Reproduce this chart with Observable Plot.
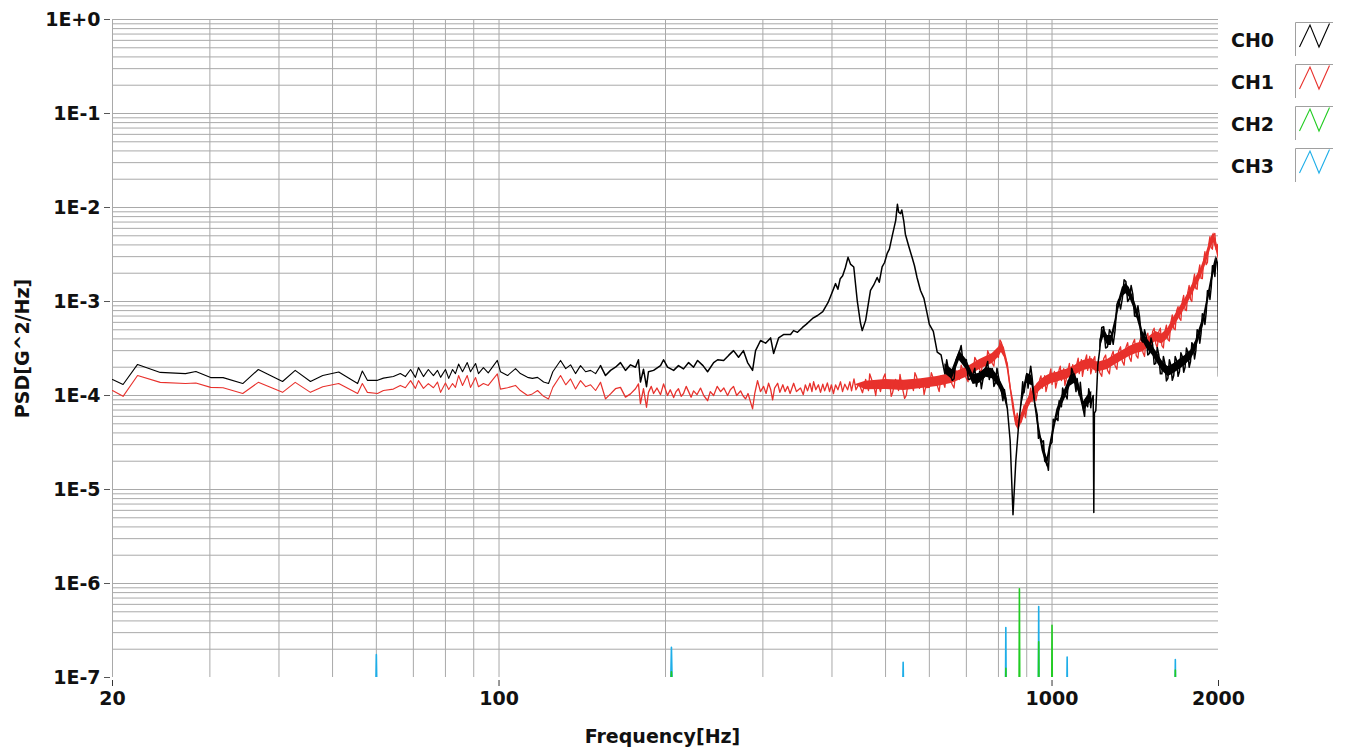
<!DOCTYPE html>
<html><head><meta charset="utf-8">
<script src="https://cdn.jsdelivr.net/npm/d3@7"></script>
<script src="https://cdn.jsdelivr.net/npm/@observablehq/plot@0.6"></script>
<style>
html,body{margin:0;padding:0;background:#fff;}
#wrap{position:relative;width:1347px;height:751px;overflow:hidden;}
#legend{position:absolute;left:1220px;top:0;}
</style></head>
<body><div id="wrap"><div id="chart"></div><svg id="legend" width="127" height="200"></svg></div>
<script>
const xTicks = [20, 100, 1000, 2000];
const xTickLabels = ["20", "100", "1000", "2000"];
const xGridVals = [20,30,40,50,60,70,80,90,100,200,300,400,500,600,700,800,900,1000];
const yTicks = [1e-7, 1e-6, 1e-5, 1e-4, 1e-3, 1e-2, 1e-1, 1];
const yTickLabels = ["1E-7","1E-6","1E-5","1E-4","1E-3","1E-2","1E-1","1E+0"];
const channels = ["CH0", "CH1", "CH2", "CH3"];
const channelColors = ["#000000", "#e8312c", "#22cc22", "#1eaee8"];

// CH0 [frequency Hz, PSD G^2/Hz]
const ch0 = [[20.0,1.48e-4],[20.9,1.31e-4],[22.2,2.14e-4],[24.4,1.76e-4],[27.1,1.71e-4],[28.3,1.80e-4],[30.1,1.55e-4],[31.7,1.55e-4],[34.4,1.34e-4],[36.7,1.89e-4],[40.6,1.41e-4],[42.8,1.85e-4],[45.6,1.41e-4],[48.0,1.63e-4],[51.3,1.78e-4],[55.5,1.34e-4],[56.6,1.82e-4],[57.8,1.45e-4],[60.3,1.45e-4],[61.8,1.53e-4],[64.4,1.59e-4],[66.3,1.71e-4],[67.7,1.59e-4],[69.2,1.89e-4],[70.6,1.56e-4],[71.5,1.98e-4],[73.0,1.59e-4],[74.5,1.89e-4],[76.1,1.63e-4],[77.4,1.85e-4],[78.4,1.56e-4],[80.0,1.89e-4],[81.1,1.52e-4],[82.4,1.89e-4],[83.4,1.71e-4],[84.5,2.16e-4],[85.9,1.79e-4],[87.6,2.24e-4],[88.8,1.79e-4],[90.7,2.19e-4],[91.8,1.71e-4],[93.7,1.98e-4],[95.6,1.74e-4],[99.3,2.36e-4],[100.6,1.79e-4],[103.6,1.63e-4],[107.1,1.93e-4],[109.3,1.71e-4],[112.6,1.56e-4],[114.9,1.52e-4],[117.4,1.56e-4],[120.4,1.39e-4],[122.9,1.34e-4],[125.1,1.79e-4],[129.2,2.36e-4],[132.0,1.93e-4],[134.7,2.12e-4],[137.5,1.71e-4],[140.4,2.08e-4],[143.4,1.79e-4],[146.4,1.85e-4],[149.5,1.71e-4],[152.6,2.08e-4],[155.8,1.63e-4],[159.1,1.85e-4],[162.4,2.0e-4],[165.8,2.24e-4],[169.3,1.85e-4],[172.9,2.12e-4],[176.5,2.0e-4],[178.7,2.4e-4],[180.2,1.39e-4],[182.5,1.9e-4],[184.8,1.24e-4],[186.3,1.79e-4],[190.3,1.85e-4],[195.9,2.08e-4],[198.4,2.4e-4],[201.7,2.0e-4],[206.9,1.85e-4],[211.1,2.08e-4],[215.6,1.92e-4],[220.2,2.24e-4],[224.8,2.0e-4],[228.6,2.36e-4],[233.8,2.08e-4],[238.3,1.79e-4],[244.4,2.24e-4],[248.5,2.4e-4],[254.8,2.36e-4],[260.1,2.67e-4],[265.5,3.0e-4],[271.1,2.55e-4],[276.7,3.0e-4],[281.5,2.24e-4],[287.4,1.85e-4],[291.0,3.0e-4],[297.1,3.85e-4],[303.4,3.6e-4],[309.8,4.1e-4],[313.7,2.8e-4],[320.3,4.1e-4],[326.9,4.45e-4],[336.6,4.45e-4],[340.9,4.9e-4],[346.5,4.7e-4],[353.8,5.3e-4],[359.7,5.75e-4],[368.9,6.6e-4],[376.7,7.1e-4],[385.0,7.8e-4],[393.4,9.7e-4],[397.6,1.13e-3],[406.0,1.55e-3],[410,1.35e-3],[414,1.75e-3],[418.2,1.88e-3],[423,2.3e-3],[427.6,2.95e-3],[432,2.5e-3],[438,2.33e-3],[444.3,1.03e-3],[450.4,5.9e-4],[453.7,4.9e-4],[460.2,6.3e-4],[469.6,1.31e-3],[476,1.5e-3],[482.8,1.8e-3],[487,1.6e-3],[492.9,2.33e-3],[498,2.6e-3],[503.4,3.25e-3],[508,3.6e-3],[514.1,5.0e-3],[521.6,7.3e-3],[525.3,1.08e-2],[528.2,8.9e-3],[532.1,8.6e-3],[535,9.4e-3],[539.5,7.1e-3],[543,5.2e-3],[550.5,3.9e-3],[558.3,2.95e-3],[564,2.4e-3],[570.0,1.8e-3],[578.3,1.31e-3],[586.6,1.08e-3],[594.7,7.4e-4],
[600,5.7e-4],[610,4.8e-4],[620,2.9e-4],[630,2.7e-4],[640,1.7e-4],[650,1.85e-4],[660,1.45e-4],[670,2.35e-4],[680,2.9e-4],[690,2.3e-4],[700,2.4e-4],[710,1.48e-4],[720,1.71e-4],[730,1.25e-4],[740,1.8e-4],[750,1.48e-4],[760,2.0e-4],[770,1.48e-4],[780,1.93e-4],[790,1.37e-4],[800,1.6e-4],[810,1.1e-4],[820,1.16e-4],[830,7.4e-5],[840,3.3e-5],[850,5.4e-6],[860,2.0e-5],[870,4.8e-5],[880,9.1e-5],[890,1.07e-4],[900,1.7e-4],[910,1.63e-4],[920,1.6e-4],[930,8.4e-5],[940,6.3e-5],[950,3.7e-5],[960,3.2e-5],[970,2.0e-5],[980,1.9e-5],[990,2.9e-5],[1000,3.2e-5],[1010,5.3e-5],[1020,5.7e-5],[1030,8.8e-5],[1040,7.6e-5],[1050,1.1e-4],[1060,9.8e-5],[1070,1.44e-4],[1080,1.31e-4],[1090,1.8e-4],[1100,1.34e-4],[1110,1.52e-4],[1120,1.0e-4],[1130,1.05e-4],[1140,6.9e-5],[1150,9.1e-5],[1160,7.6e-5],[1170,1.05e-4],[1180,9.1e-5],[1187,1.0e-4],[1190,5.7e-6],[1193,6.5e-5],[1200,6.9e-5],[1210,2.1e-4],[1220,3.1e-4],[1240,5.4e-4],[1260,3.3e-4],[1280,4.6e-4],[1300,4.9e-4],[1320,1.05e-3],[1340,1.07e-3],[1360,1.63e-3],[1380,1.07e-3],[1400,1.19e-3],[1420,6.9e-4],[1440,6.8e-4],[1460,3.7e-4],[1480,4.2e-4],[1500,2.8e-4],[1520,3.5e-4],[1540,2.2e-4],[1560,2.7e-4],[1580,1.7e-4],[1600,2.2e-4],[1620,1.52e-4],[1640,2.1e-4],[1660,1.63e-4],[1680,2.35e-4],[1700,1.8e-4],[1720,2.6e-4],[1740,2.0e-4],[1760,2.9e-4],[1780,2.3e-4],[1800,3.4e-4],[1820,3.0e-4],[1840,4.8e-4],[1860,4.6e-4],[1880,7.1e-4],[1900,7.6e-4],[1920,1.31e-3],[1940,1.41e-3],[1960,2.4e-3],[1980,2.9e-3],[1990,2.6e-3],[1995,2.1e-3],[2000,1.6e-4]];

// CH0 noise extremes in the dense part of the trace
const ch0Peaks = [[645,2.4e-4],[665,1.5e-4],[685,3.4e-4],[705,1.5e-4],[725,1.95e-4],[745,1.18e-4],[765,2.3e-4],[785,1.25e-4],[795,1.95e-4],[815,8.8e-5],[885,1.4e-4],[905,1.2e-4],[915,2.05e-4],[945,3.5e-5],[965,3.3e-5],[985,1.6e-5],[1005,5.6e-5],[1025,5.4e-5],[1045,1.2e-4],[1065,9.2e-5],[1085,1.95e-4],[1105,1.1e-4],[1125,1.38e-4],[1145,6.0e-5],[1165,1.18e-4],[1175,7.4e-5],[1230,5.3e-4],[1250,3.2e-4],[1270,5.0e-4],[1290,3.5e-4],[1310,9.3e-4],[1330,8.3e-4],[1350,1.7e-3],[1370,1.0e-3],[1390,1.48e-3],[1410,7.0e-4],[1430,9.0e-4],[1450,3.9e-4],[1470,5.0e-4],[1490,2.7e-4],[1510,4.1e-4],[1530,2.15e-4],[1550,3.25e-4],[1570,1.7e-4],[1590,2.6e-4],[1610,1.43e-4],[1630,2.4e-4],[1650,1.45e-4],[1670,2.6e-4],[1690,1.6e-4],[1710,2.85e-4],[1730,1.77e-4],[1750,3.2e-4],[1770,2.0e-4],[1790,3.65e-4],[1810,2.45e-4],[1830,5.0e-4],[1850,3.6e-4],[1870,7.4e-4],[1890,5.7e-4],[1910,1.3e-3],[1930,1.05e-3],[1950,2.4e-3],[1970,1.85e-3]];

// CH0 dense-noise band where the trace is a solid smear: [frequency, low PSD, high PSD]
const ch0Band = [[640,1.71e-4,2.18e-4],[660,1.48e-4,1.89e-4],[680,2.35e-4,3.0e-4],[700,1.89e-4,2.41e-4],[720,1.31e-4,1.67e-4],[740,1.35e-4,1.72e-4],[760,1.56e-4,1.99e-4],[780,1.51e-4,1.93e-4],[800,1.25e-4,1.59e-4],[820,9.3e-5,1.19e-4],[830,7.1e-5,9.0e-5],[835,null,null],
[880,7.4e-5,9.5e-5],[900,1.35e-4,1.72e-4],[920,1.27e-4,1.63e-4],[940,5.0e-5,6.4e-5],[960,2.54e-5,3.24e-5],[980,1.71e-5,2.18e-5],[1000,3.16e-5,4.03e-5],[1020,5.6e-5,7.1e-5],[1040,7.6e-5,9.7e-5],[1060,9.7e-5,1.24e-4],[1080,1.27e-4,1.63e-4],[1100,1.35e-4,1.72e-4],[1120,1.03e-4,1.31e-4],[1140,6.7e-5,8.6e-5],[1160,7.8e-5,1.0e-4],[1180,8.7e-5,1.11e-4],[1185,null,null],
[1220,3.08e-4,3.93e-4],[1240,4.16e-4,5.3e-4],[1260,3.41e-4,4.35e-4],[1280,3.41e-4,4.35e-4],[1300,5.0e-4,6.4e-4],[1320,8.1e-4,1.03e-3],[1340,1.11e-3,1.41e-3],[1360,1.21e-3,1.55e-3],[1380,1.11e-3,1.41e-3],[1400,9.0e-4,1.15e-3],[1420,7.1e-4,9.0e-4],[1440,5.3e-4,6.8e-4],[1460,3.75e-4,4.79e-4],[1480,3.24e-4,4.14e-4],[1500,2.92e-4,3.73e-4],[1520,2.66e-4,3.39e-4],[1540,2.35e-4,3.0e-4],[1560,2.08e-4,2.66e-4],[1580,1.84e-4,2.35e-4],[1600,1.71e-4,2.18e-4],[1620,1.59e-4,2.03e-4],[1640,1.64e-4,2.09e-4],[1660,1.71e-4,2.18e-4],[1680,1.8e-4,2.29e-4],[1700,1.89e-4,2.41e-4],[1720,1.98e-4,2.53e-4],[1740,2.08e-4,2.66e-4],[1760,2.25e-4,2.87e-4],[1780,2.35e-4,3.0e-4],[1800,2.66e-4,3.39e-4],[1820,3.0e-4,3.84e-4],[1840,3.75e-4,4.79e-4],[1860,4.57e-4,5.83e-4],[1880,5.6e-4,7.1e-4],[1900,7.6e-4,9.7e-4],[1920,1.03e-3,1.31e-3],[1940,1.41e-3,1.8e-3],[1960,1.89e-3,2.41e-3],[1980,2.42e-3,3.08e-3]];

// CH1
const ch1 = [[20.0,1.13e-4],[20.9,9.8e-5],[22.2,1.63e-4],[24.4,1.38e-4],[27.1,1.34e-4],[28.3,1.36e-4],[30.1,1.22e-4],[31.7,1.21e-4],[34.4,1.05e-4],[36.7,1.38e-4],[40.6,1.08e-4],[42.8,1.38e-4],[45.6,1.08e-4],[48.0,1.24e-4],[51.3,1.34e-4],[55.5,1.05e-4],[56.6,1.34e-4],[57.8,1.08e-4],[60.3,1.05e-4],[61.8,1.13e-4],[64.4,1.17e-4],[66.3,1.28e-4],[67.7,1.21e-4],[69.2,1.44e-4],[70.6,1.19e-4],[71.5,1.44e-4],[73.0,1.19e-4],[74.5,1.34e-4],[76.1,1.21e-4],[77.4,1.39e-4],[78.4,1.08e-4],[80.0,1.36e-4],[81.1,1.16e-4],[82.4,1.34e-4],[83.4,1.22e-4],[84.5,1.63e-4],[85.9,1.28e-4],[87.6,1.63e-4],[88.8,1.22e-4],[90.7,1.55e-4],[91.8,1.24e-4],[93.7,1.34e-4],[95.6,1.28e-4],[99.3,1.7e-4],[100.6,1.17e-4],[103.6,1.21e-4],[107.1,1.28e-4],[109.3,1.13e-4],[112.6,1.0e-4],[114.9,1.04e-4],[117.4,1.13e-4],[120.4,9.8e-5],[122.9,9.2e-5],[125.1,1.22e-4],[129.2,1.63e-4],[132.0,1.3e-4],[134.7,1.5e-4],[137.5,1.17e-4],[140.4,1.44e-4],[143.4,1.24e-4],[146.4,1.3e-4],[149.5,1.13e-4],[152.6,1.38e-4],[155.8,9.2e-5],[159.1,1.04e-4],[162.4,1.18e-4],[165.8,1.22e-4],[169.3,9.6e-5],[172.9,1.04e-4],[176.5,1.18e-4],[178.7,1.33e-4],[180.2,8.2e-5],[182.5,1.18e-4],[184.8,7.5e-5],[186.3,1.08e-4],[188.5,1.25e-4],[190.3,1.05e-4],[193,1.2e-4],[195.9,1.02e-4],[198.4,1.33e-4],[201.7,1.0e-4],[204,1.15e-4],[206.9,9.5e-5],[209,1.1e-4],[211.1,1.18e-4],[213.5,9.8e-5],[215.6,1.05e-4],[218,1.25e-4],[220.2,1.1e-4],[222.5,9.6e-5],[224.8,1.12e-4],[228,1.02e-4],[231.4,1.2e-4],[234.5,1.0e-4],[238.3,8.8e-5],[241,1.1e-4],[244.4,1.0e-4],[248,1.25e-4],[251.6,1.1e-4],[255,1.2e-4],[259.0,1.0e-4],[262,1.15e-4],[265.5,1.25e-4],[269,1.0e-4],[273.4,1.12e-4],[276,1.0e-4],[279.1,9.2e-5],[282,1.05e-4],[285.0,8.5e-5],[287.4,7.2e-5],[290,1.05e-4],[293.4,1.44e-4],[297,1.1e-4],[300.9,1.25e-4],[304,1.05e-4],[307.2,1.35e-4],[310,1.15e-4],[312.4,9.0e-5],[315,1.2e-4],[319.0,1.35e-4],[322,1.08e-4],[326,1.3e-4],[329,1.1e-4],[332.6,1.25e-4],[336,1.05e-4],[341.0,1.35e-4],[345,1.1e-4],[350.9,1.2e-4],[355,1.02e-4],[358,1.3e-4],[361.3,1.12e-4],[365,1.35e-4],[368,1.1e-4],[370.5,1.4e-4],[374,1.15e-4],[378,1.3e-4],[381.4,1.08e-4],[385,1.32e-4],[388,1.12e-4],[392.4,1.36e-4],[396,1.1e-4],[399,1.3e-4],[402.5,1.05e-4],[406,1.3e-4],[410,1.15e-4],[414.5,1.4e-4],[418,1.1e-4],[422,1.32e-4],[426.9,1.15e-4],[431,1.4e-4],[434,1.12e-4],[438.4,1.5e-4],[442,1.15e-4],[447.7,1.33e-4],[454.2,1.07e-4],[460.2,1.48e-4],[465.7,1.13e-4],[471.5,1.5e-4],[477.6,1.16e-4],[483.5,1.44e-4],[489.5,1.1e-4],[495.6,1.55e-4],[501.9,1.19e-4],[508.3,1.41e-4],[514.8,1.07e-4],[521.2,1.48e-4],[527.8,1.13e-4],[534.4,1.34e-4],[541.2,9.3e-5],[548.0,1.24e-4],[554.6,1.44e-4],[561.6,1.13e-4],[568.7,1.59e-4],[575.9,1.19e-4],[583.1,1.5e-4],[590.6,1.21e-4],
[600,1.22e-4],[610,1.52e-4],[620,1.28e-4],[630,1.63e-4],[640,1.22e-4],[650,1.63e-4],[660,1.31e-4],[670,1.85e-4],[680,1.48e-4],[690,1.85e-4],[700,1.52e-4],[710,2.03e-4],[720,1.71e-4],[730,2.35e-4],[740,1.89e-4],[750,2.47e-4],[760,1.98e-4],[770,2.73e-4],[780,2.19e-4],[790,3.0e-4],[800,2.54e-4],[810,3.66e-4],[820,2.66e-4],[830,2.19e-4],[840,1.22e-4],[850,8.4e-5],[860,5.0e-5],[870,5.3e-5],[880,5.2e-5],[890,7.8e-5],[900,7.1e-5],[910,1.0e-4],[920,8.6e-5],[930,1.25e-4],[940,1.05e-4],[950,1.48e-4],[960,1.19e-4],[970,1.63e-4],[980,1.25e-4],[990,1.67e-4],[1000,1.31e-4],[1010,1.8e-4],[1020,1.37e-4],[1030,1.89e-4],[1040,1.44e-4],[1050,1.93e-4],[1060,1.44e-4],[1070,1.93e-4],[1080,1.52e-4],[1090,2.13e-4],[1100,1.63e-4],[1110,2.24e-4],[1120,1.71e-4],[1130,2.41e-4],[1140,1.85e-4],[1150,2.47e-4],[1160,1.85e-4],[1170,2.6e-4],[1180,1.89e-4],[1190,2.47e-4],[1200,1.76e-4],[1210,2.24e-4],[1220,1.76e-4],[1240,2.47e-4],[1260,1.85e-4],[1280,2.6e-4],[1300,2.08e-4],[1320,3.0e-4],[1340,2.3e-4],[1360,3.24e-4],[1380,2.54e-4],[1400,3.57e-4],[1420,2.66e-4],[1440,3.75e-4],[1460,2.87e-4],[1480,4.14e-4],[1500,3.24e-4],[1520,4.8e-4],[1540,3.57e-4],[1560,4.8e-4],[1580,3.4e-4],[1600,4.8e-4],[1620,3.94e-4],[1640,6.0e-4],[1660,5.16e-4],[1680,8.0e-4],[1700,6.6e-4],[1720,1.0e-3],[1740,8.2e-4],[1760,1.25e-3],[1780,1.05e-3],[1800,1.63e-3],[1820,1.37e-3],[1840,2.03e-3],[1860,1.76e-3],[1880,2.73e-3],[1900,2.47e-3],[1920,4.04e-3],[1940,3.75e-3],[1960,5.16e-3],[1980,3.57e-3],[1990,4.04e-3],[2000,3.09e-3]];

// CH1 noise extremes in the dense part of the trace
const ch1Peaks = [[468,1.7e-4],[480,1.0e-4],[499,1.7e-4],[512,9.8e-5],[531,1.68e-4],[545,1.0e-4],[565,1.75e-4],[587,1.02e-4],[605,1.75e-4],[625,1.1e-4],[645,1.85e-4],[665,1.2e-4],[685,2.1e-4],[705,1.4e-4],[725,2.55e-4],[745,1.75e-4],[765,3.0e-4],[785,2.05e-4],[805,3.9e-4],[865,6.5e-5],[895,5.8e-5],[915,1.2e-4],[935,8.8e-5],[955,1.62e-4],[975,1.1e-4],[995,1.92e-4],[1015,1.2e-4],[1035,2.05e-4],[1055,1.28e-4],[1075,2.2e-4],[1095,1.4e-4],[1115,2.5e-4],[1135,1.6e-4],[1155,2.7e-4],[1175,1.7e-4],[1195,2.6e-4],[1230,1.6e-4],[1250,2.7e-4],[1270,1.7e-4],[1290,2.95e-4],[1310,1.9e-4],[1330,3.3e-4],[1350,2.1e-4],[1370,3.65e-4],[1390,2.3e-4],[1410,3.95e-4],[1430,2.5e-4],[1450,4.2e-4],[1470,2.6e-4],[1490,4.6e-4],[1510,3.0e-4],[1530,5.2e-4],[1550,3.2e-4],[1570,5.2e-4],[1590,3.2e-4],[1610,5.6e-4],[1630,3.8e-4],[1650,7.2e-4],[1670,5.0e-4],[1690,8.8e-4],[1710,6.3e-4],[1730,1.16e-3],[1750,8.0e-4],[1770,1.48e-3],[1790,1.0e-3],[1810,1.95e-3],[1830,1.35e-3],[1850,2.45e-3],[1870,1.75e-3],[1890,3.4e-3],[1910,2.6e-3],[1930,4.9e-3],[1950,3.6e-3],[1970,5.3e-3]];

// CH1 dense-noise band: [frequency, low PSD, high PSD]
const ch1Band = [[440,1.3e-4,1.3e-4],[460,1.15e-4,1.42e-4],[500,1.16e-4,1.48e-4],[540,1.13e-4,1.45e-4],[580,1.19e-4,1.51e-4],[620,1.25e-4,1.59e-4],[660,1.35e-4,1.72e-4],[700,1.56e-4,1.99e-4],[740,1.89e-4,2.41e-4],[780,2.19e-4,2.79e-4],[800,2.54e-4,3.24e-4],[810,2.87e-4,3.66e-4],[820,2.54e-4,3.24e-4],[830,1.89e-4,2.41e-4],[840,1.16e-4,1.48e-4],[850,6.9e-5,8.8e-5],[860,4.8e-5,6.1e-5],[870,4.25e-5,5.4e-5],[880,5.0e-5,6.4e-5],[900,6.9e-5,8.8e-5],[920,8.7e-5,1.11e-4],[940,1.05e-4,1.34e-4],[960,1.19e-4,1.51e-4],[980,1.27e-4,1.63e-4],[1000,1.35e-4,1.72e-4],[1020,1.38e-4,1.76e-4],[1040,1.44e-4,1.84e-4],[1060,1.48e-4,1.89e-4],[1080,1.56e-4,1.99e-4],[1100,1.64e-4,2.09e-4],[1120,1.75e-4,2.24e-4],[1140,1.84e-4,2.35e-4],[1160,1.89e-4,2.41e-4],[1180,1.94e-4,2.47e-4],[1200,1.8e-4,2.29e-4],[1220,1.8e-4,2.29e-4],[1260,1.89e-4,2.41e-4],[1300,2.13e-4,2.72e-4],[1340,2.35e-4,3.0e-4],[1380,2.6e-4,3.32e-4],[1420,2.8e-4,3.57e-4],[1460,2.92e-4,3.73e-4],[1500,3.32e-4,4.24e-4],[1540,3.75e-4,4.79e-4],[1580,3.54e-4,4.52e-4],[1620,4.04e-4,5.16e-4],[1660,5.3e-4,6.8e-4],[1700,6.7e-4,8.6e-4],[1740,8.4e-4,1.07e-3],[1780,1.08e-3,1.38e-3],[1820,1.41e-3,1.8e-3],[1860,1.8e-3,2.29e-3],[1900,2.54e-3,3.24e-3],[1940,3.75e-3,4.79e-3],[1960,4.25e-3,5.4e-3],[1980,3.54e-3,4.52e-3],[2000,2.73e-3,3.49e-3]];

// CH2 (mostly below 1E-7; only the peaks show)
const ch2 = [[20,5e-8],[204,5e-8],[205,1.15e-7],[206,5e-8],[823.5,5e-8],[825,1.25e-7],[826.5,5e-8],[871.5,5e-8],[873,8.8e-7],[874.5,5e-8],[944.5,5e-8],[946,2.4e-7],[947.5,5e-8],[998.5,5e-8],[1000,3.6e-7],[1001.5,5e-8],[1668,5e-8],[1671,1.2e-7],[1674,5e-8],[2000,5e-8]];
// CH3
const ch3 = [[20,5e-8],[59.8,5e-8],[60,1.75e-7],[60.2,5e-8],[204,5e-8],[205,2.1e-7],[206,5e-8],[536.5,5e-8],[538,1.45e-7],[539.5,5e-8],[823.5,5e-8],[825,3.4e-7],[826.5,5e-8],[944.5,5e-8],[946,5.7e-7],[947.5,5e-8],[1063,5e-8],[1065,1.65e-7],[1067,5e-8],[1668,5e-8],[1671,1.55e-7],[1674,5e-8],[2000,5e-8]];

const yGridVals = [];
for (let k = 0; k < yTicks.length - 1; k++) for (let m = 1; m <= 9; m++) { if (k === 0 && m === 1) continue; yGridVals.push(yTicks[k] * m); }
yGridVals.push(1);

const byFreq = (a, b) => a[0] - b[0];
const ch0All = ch0.concat(ch0Peaks).sort(byFreq);
const ch1All = ch1.concat(ch1Peaks).sort(byFreq);

const font = "DejaVu Sans, Verdana, sans-serif";
const lineOpts = (color, w) => ({x: d => d[0], y: d => d[1], stroke: color, strokeWidth: w, clip: true});
const bandOpts = (color) => ({x: d => d[0], y1: d => d[1], y2: d => d[2], fill: color, clip: true});

const chart = Plot.plot({
  width: 1347, height: 751,
  marginLeft: 112, marginRight: 129, marginTop: 19, marginBottom: 74,
  style: {fontFamily: font, background: "#fff", overflow: "visible"},
  x: {type: "log", domain: [20, 2000]},
  y: {type: "log", domain: [1e-7, 1]},
  marks: [
    Plot.gridX(xGridVals, {stroke: "#a9a9a9", strokeOpacity: 1}),
    Plot.gridY(yGridVals, {stroke: "#a9a9a9", strokeOpacity: 1}),
    Plot.axisY(yTicks, {anchor: "left", tickSize: 6, tickPadding: 4, dx: -2, label: null, fontSize: 19, fontWeight: "bold", fill: "#111", stroke: "#555",
      tickFormat: d => yTickLabels[yTicks.indexOf(d)]}),
    Plot.axisX(xTicks, {anchor: "bottom", tickSize: 6, tickPadding: 5, dy: 3, label: null, fontSize: 19, fontWeight: "bold", fill: "#111", stroke: "#333",
      tickFormat: d => xTickLabels[xTicks.indexOf(d)]}),
    Plot.line(ch3, lineOpts(channelColors[3], 1.6)),
    Plot.line(ch2, lineOpts(channelColors[2], 1.6)),
    Plot.areaY(ch1Band, bandOpts(channelColors[1])),
    Plot.line(ch1All.filter(d => d[0] <= 152.6), lineOpts(channelColors[1], 1.1)),
    Plot.line(ch1All.filter(d => d[0] >= 152.6), lineOpts(channelColors[1], 1.3)),
    Plot.areaY(ch0Band, bandOpts(channelColors[0])),
    Plot.line(ch0All.filter(d => d[0] <= 152.6), lineOpts(channelColors[0], 1.1)),
    Plot.line(ch0All.filter(d => d[0] >= 152.6), lineOpts(channelColors[0], 1.5)),
    Plot.text(["PSD[G^2/Hz]"], {text: d => d, frameAnchor: "left", textAnchor: "middle", lineAnchor: "middle", dx: -90, rotate: -90, fontSize: 19, fontWeight: "bold", fill: "#111"}),
    Plot.text(["Frequency[Hz]"], {text: d => d, frameAnchor: "bottom", textAnchor: "middle", lineAnchor: "middle", dx: -3, dy: 59, fontSize: 19, fontWeight: "bold", fill: "#111"})
  ]
});
document.getElementById("chart").appendChild(chart);

// legend
const lg = d3.select("#legend");
channels.forEach((name, i) => {
  const top = 22 + 42 * i;
  lg.append("text").attr("x", 11).attr("y", top + 24.5).text(name)
    .attr("font-family", font).attr("font-weight", "bold").attr("font-size", 19).attr("fill", "#111");
  lg.append("path").attr("d", `M75.5,${top + 34} V${top + 0.5} H113`).attr("fill", "none").attr("stroke", "#a0a0a0");
  lg.append("polyline").attr("points", `79.5,${top + 25} 90,${top + 3} 99,${top + 25} 109.5,${top + 1.5}`)
    .attr("fill", "none").attr("stroke", channelColors[i]).attr("stroke-width", 1.1);
});
</script>
</body></html>
